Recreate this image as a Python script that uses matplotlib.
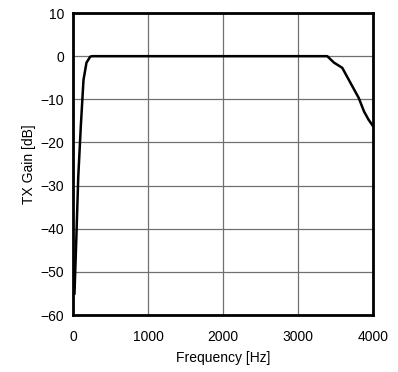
import matplotlib
matplotlib.use("Agg")
import matplotlib.pyplot as plt

plt.rcParams['font.family'] = ['Liberation Sans', 'DejaVu Sans']

# frequency response
freq = [20, 45, 70, 105, 140, 180, 230, 260, 1000, 2000, 3000, 3390,
        3480, 3590, 3700, 3810, 3880, 3940, 4000]
gain = [-55, -42, -28, -16, -5.5, -1.5, -0.1, 0, 0, 0, 0, 0,
        -1.5, -2.7, -6.2, -9.7, -12.8, -14.7, -16.2]

xticks = [0, 1000, 2000, 3000, 4000]
yticks = [10, 0, -10, -20, -30, -40, -50, -60]

fig = plt.figure(figsize=(3.98, 3.72), dpi=100)
ax = fig.add_axes([0.1834, 0.153, 0.7538, 0.812])

ax.plot(freq, gain, color='black', lw=1.8, solid_joinstyle='round')

ax.set_xlim(0, 4000)
ax.set_ylim(-60, 10)
ax.set_xticks(xticks)
ax.set_yticks(yticks)
ax.grid(True, color='#707070', lw=0.9)
ax.set_axisbelow(True)
ax.tick_params(length=0, labelsize=10)
ax.tick_params(axis='x', pad=11)
ax.tick_params(axis='y', pad=6.5)
for s in ax.spines.values():
    s.set_linewidth(2)

ax.set_xlabel("Frequency [Hz]", fontsize=10, labelpad=5)
ax.set_ylabel("TX Gain [dB]", fontsize=10, labelpad=3)

fig.savefig("out.png", dpi=100)
